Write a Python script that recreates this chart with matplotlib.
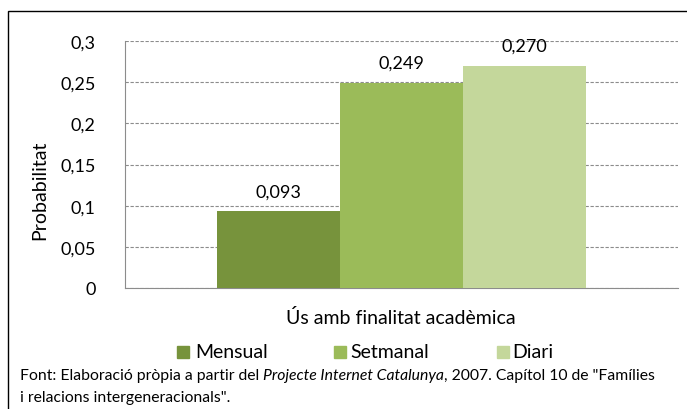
import matplotlib
matplotlib.use("Agg")
import matplotlib.pyplot as plt
from matplotlib.patches import Rectangle

plt.rcParams['font.family'] = ['Lato', 'DejaVu Sans']

series = ['Mensual', 'Setmanal', 'Diari']
values = [0.093, 0.249, 0.270]
value_labels = ['0,093', '0,249', '0,270']
colors = ['#77933C', '#9BBB59', '#C4D79B']
yticks = [0, 0.05, 0.1, 0.15, 0.2, 0.25, 0.3]
ytick_labels = ['0', '0,05', '0,1', '0,15', '0,2', '0,25', '0,3']
category = 'Ús amb finalitat acadèmica'

W, H = 687, 410
fig = plt.figure(figsize=(6.87, 4.10), dpi=100)
ax = fig.add_axes([125 / W, 1 - 289 / H, (678 - 125) / W, (289 - 42) / H])

# outer frame of the chart (cut off at right and bottom)
fig.patches.append(Rectangle((8 / W, -0.1), 1.2, 1.1 - 12 / H, transform=fig.transFigure,
                             fill=False, edgecolor='#000000', linewidth=1.0))

xs = [-1, 0, 1]
for x, v, c, lab in zip(xs, values, colors, value_labels):
    ax.bar(x, v, width=1.0, color=c, zorder=3)
    ax.text(x, v + 0.0245, lab, ha='center', va='center', fontsize=13, color='#000000', zorder=4)

ax.set_xlim(-2.245, 2.25)
ax.set_ylim(0, 0.3)
ax.set_yticks(yticks)
ax.set_yticklabels(ytick_labels, fontsize=13)
ax.set_xticks([])
ax.yaxis.grid(True, linestyle=(0, (3, 1.5)), color='#8c8c8c', linewidth=0.8, zorder=0)
ax.tick_params(axis='y', length=0, pad=21)
for s in ['top', 'right']:
    ax.spines[s].set_visible(False)
ax.spines['left'].set_color('#8c8c8c')
ax.spines['bottom'].set_color('#8c8c8c')

fig.text(40 / W, 1 - 190 / H, 'Probabilitat', rotation=90, ha='center', va='center', fontsize=14)
fig.text(401 / W, 1 - 318 / H, category, ha='center', va='center', fontsize=14)

# legend
leg_sq = [177, 334, 497]
leg_tx = [195, 350, 512]
for sx, tx, name, c in zip(leg_sq, leg_tx, series, colors):
    fig.patches.append(Rectangle((sx / W, 1 - 359 / H), 12 / W, 12 / H,
                                 transform=fig.transFigure, color=c))
    fig.text(tx / W, 1 - 353 / H, name, ha='left', va='center', fontsize=14)

# footnote with italic title
fig.canvas.draw()
r = fig.canvas.get_renderer()
y1 = 1 - 376 / H
parts = [('Font: Elaboració pròpia a partir del ', 'normal'),
         ('Projecte Internet Catalunya', 'italic'),
         (', 2007. Capítol 10 de "Famílies', 'normal')]
xpos = 20 / W
for txt, st in parts:
    t = fig.text(xpos, y1, txt, ha='left', va='center', fontsize=11.3, style=st)
    bb = t.get_window_extent(r)
    xpos += bb.width / fig.bbox.width
fig.text(20 / W, 1 - 398 / H, 'i relacions intergeneracionals".', ha='left', va='center', fontsize=11.3)

fig.savefig('out.png', dpi=100)
